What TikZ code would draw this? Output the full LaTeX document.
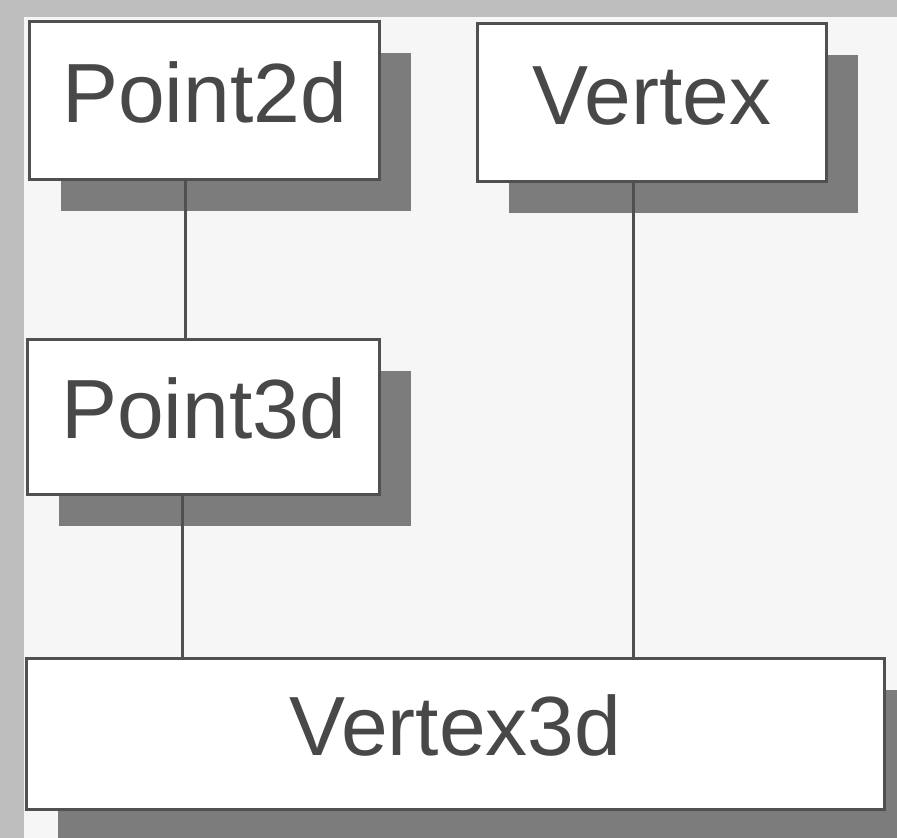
\documentclass[tikz,border=0pt]{standalone}
\usepackage{fontspec}
\setmainfont{Liberation Sans}
\usetikzlibrary{shadows}
\definecolor{bgpaper}{HTML}{F6F6F6}
\definecolor{edgegray}{HTML}{BEBEBE}
\definecolor{shadowgray}{HTML}{7C7C7C}
\definecolor{linegray}{HTML}{505050}
\definecolor{textgray}{HTML}{484848}
\tikzset{
  classbox/.style={draw=linegray, line width=3pt, fill=white, rectangle,
    anchor=north west, inner sep=0pt, text=textgray,
    font=\fontsize{84}{90}\selectfont, text height=60pt, text depth=17pt,
    general shadow={fill=shadowgray, shadow xshift=31pt, shadow yshift=-31pt}},
  link/.style={draw=linegray, line width=3pt}
}
\begin{document}
\begin{tikzpicture}[x=1pt,y=-1pt]
  \useasboundingbox (0,0) rectangle (897,838);
  \fill[bgpaper] (0,0) rectangle (897,838);
  \fill[edgegray] (0,0) rectangle (24,838);
  \fill[edgegray] (0,0) rectangle (897,17);

  \node[classbox, minimum width=350pt, minimum height=158pt] (p2d) at (28,20) {Point2d};
  \node[classbox, minimum width=349pt, minimum height=158pt] (vtx) at (476,22) {Vertex};
  \node[classbox, minimum width=352pt, minimum height=155pt] (p3d) at (26,338) {Point3d};
  \node[classbox, minimum width=858pt, minimum height=151pt] (v3d) at (25,657) {Vertex3d};

  \coordinate (c1) at (185,0);
  \coordinate (c2) at (182,0);
  \coordinate (c3) at (633,0);
  \draw[link] (p2d.south -| c1) -- (p3d.north -| c1);
  \draw[link] (p3d.south -| c2) -- (v3d.north -| c2);
  \draw[link] (vtx.south -| c3) -- (v3d.north -| c3);
\end{tikzpicture}
\end{document}
